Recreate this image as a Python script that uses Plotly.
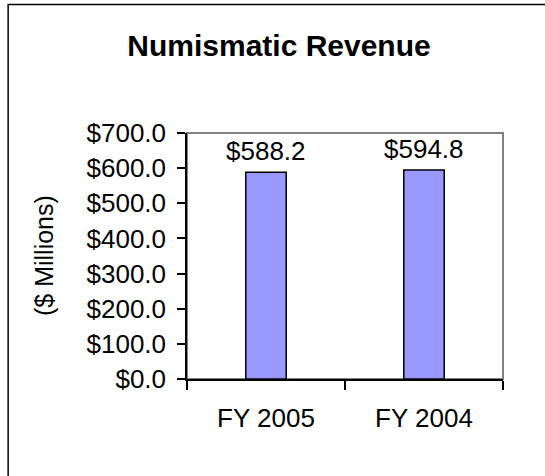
import plotly.graph_objects as go

categories = ["FY 2005", "FY 2004"]
revenue = [588.2, 594.8]
y_ticks = [0, 100, 200, 300, 400, 500, 600, 700]
y_tick_labels = [f"${v:.1f}" for v in y_ticks]
title_text = "Numismatic Revenue"
y_title = "($ Millions)"

FONT = "Liberation Sans, Arial, sans-serif"

fig = go.Figure()
fig.add_trace(go.Bar(
    x=categories, y=revenue, width=0.256,
    marker=dict(color="#9999FF", line=dict(color="#000000", width=1.5)),
    hoverinfo="skip",
))

for c, v in zip(categories, revenue):
    fig.add_annotation(x=c, y=v, text=f"${v:.1f}", showarrow=False,
                       yanchor="bottom", yshift=4,
                       font=dict(family=FONT, size=26, color="#000"))

fig.add_annotation(xref="paper", yref="paper", x=-0.4525, y=0.5,
                   text=y_title, textangle=-90, showarrow=False,
                   xanchor="center", yanchor="middle",
                   font=dict(family=FONT, size=25, color="#000"))

# plot area border (gray)
fig.add_shape(type="rect", xref="paper", yref="paper", x0=0, y0=0, x1=1, y1=1,
              line=dict(color="#808080", width=2), layer="below")
# outer chart frame
fig.add_shape(type="rect", xref="paper", yref="paper",
              x0=-0.566, y0=-0.5, x1=1.3, y1=1.522,
              line=dict(color="#000000", width=1.5), layer="below")

fig.update_layout(
    width=545, height=476,
    margin=dict(l=187, r=42, t=133, b=97),
    paper_bgcolor="white", plot_bgcolor="white",
    showlegend=False,
    title=dict(text=f"<b>{title_text}</b>", x=279/545, xanchor="center",
               y=1-45/476, yanchor="middle",
               font=dict(family=FONT, size=30, color="#000")),
    xaxis=dict(
        type="category", showline=True, linecolor="#000", linewidth=1.5,
        ticks="outside", tickson="boundaries", ticklen=9, tickcolor="#000",
        tickwidth=1.5, showgrid=False, ticklabelstandoff=15,
        tickfont=dict(family=FONT, size=26, color="#000"),
    ),
    yaxis=dict(
        range=[0, 700], tickvals=y_ticks, ticktext=y_tick_labels,
        showline=True, linecolor="#000", linewidth=1.5,
        ticks="outside", ticklen=8, tickcolor="#000", tickwidth=1.5,
        showgrid=False, zeroline=False, ticklabelstandoff=6,
        tickfont=dict(family=FONT, size=26, color="#000"),
    ),
)

fig.write_html("out.html", config={"displayModeBar": False},
               post_script="document.body.style.margin='0';document.body.style.overflow='hidden';")
